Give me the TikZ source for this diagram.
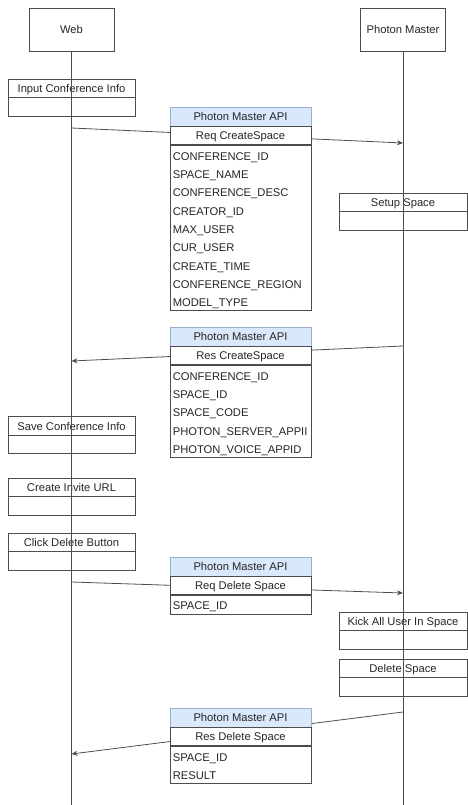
\documentclass[tikz,border=0pt]{standalone}
\usepackage{fontspec}
\setmainfont{Liberation Sans}
\usetikzlibrary{arrows.meta}
\definecolor{ln}{HTML}{4D4D4D}
\definecolor{tx}{HTML}{262626}
\definecolor{hdfill}{HTML}{DAE8FC}
\definecolor{hdline}{HTML}{9AB0D0}
\tikzset{
  every node/.style={font=\fontsize{11.2}{13}\selectfont, text=tx, text height=8pt, text depth=0pt},
  actor/.style={draw=ln, line width=0.8pt, minimum width=85pt, minimum height=43pt, inner sep=0pt},
  actbox/.style={draw=ln, line width=0.8pt, minimum width=127pt, minimum height=37pt, inner sep=0pt,
    path picture={\draw[ln, line width=0.8pt] ([yshift=-18.5pt]path picture bounding box.north west) -- ([yshift=-18.5pt]path picture bounding box.north east);}},
  acttext/.style={inner sep=0pt, anchor=center},
  life/.style={draw=ln, line width=0.8pt},
  msg/.style={draw=ln, line width=0.8pt, -{Stealth[length=6pt,width=5pt]}},
  hdr/.style={draw=hdline, fill=hdfill, line width=0.8pt, minimum width=141pt, minimum height=19pt, inner sep=0pt},
  rowbox/.style={draw=ln, fill=white, line width=0.8pt, minimum width=141pt, minimum height=18pt, inner sep=0pt},
  fieldbox/.style={draw=ln, fill=white, line width=0.8pt, minimum width=141pt, inner sep=0pt},
  field/.style={anchor=west, inner sep=0pt},
}
\begin{document}
\begin{tikzpicture}[x=1pt,y=-1pt]
\useasboundingbox (0,0) rectangle (467,805);

% actors
\node[actor] (web) at (71.5,29.5) {Web};
\node[actor] (pm) at (403,29.5) {Photon Master};
\coordinate (webend) at (71.5,805);
\coordinate (pmend) at (403,805);

% message end points on lifelines
\coordinate (a1s) at (71.5,128);
\coordinate (a1e) at (403,143);
\coordinate (a2s) at (403,346);
\coordinate (a2e) at (71.5,361);
\coordinate (a3s) at (71.5,582);
\coordinate (a3e) at (403,593);
\coordinate (a4s) at (403,712);
\coordinate (a4e) at (71.5,754);

% activity boxes
\node[actbox] (input) at (71.5,97.5) {};
\node[acttext] (inputt) at ([yshift=-10pt]input.north) {Input Conference Info};
\node[actbox] (save) at (71.5,435) {};
\node[acttext] (savet) at ([yshift=-10pt]save.north) {Save Conference Info};
\node[actbox] (invite) at (71.5,496.5) {};
\node[acttext] (invitet) at ([yshift=-10pt]invite.north) {Create Invite URL};
\node[actbox] (click) at (71.5,551.5) {};
\node[acttext] (clickt) at ([yshift=-10pt]click.north) {Click Delete Button};
\node[actbox, minimum width=128pt] (setup) at (403,211.5) {};
\node[acttext] (setupt) at ([yshift=-10pt]setup.north) {Setup Space};
\node[actbox, minimum width=128pt] (kick) at (403,630.5) {};
\node[acttext] (kickt) at ([yshift=-10pt]kick.north) {Kick All User In Space};
\node[actbox, minimum width=128pt] (del) at (403,677.5) {};
\node[acttext] (delt) at ([yshift=-10pt]del.north) {Delete Space};

% lifelines
\draw[life] (web) -- (webend);
\draw[life] (pm) -- (pmend);

% messages
\draw[msg] (a1s) -- (a1e);
\draw[msg] (a2s) -- (a2e);
\draw[msg] (a3s) -- (a3e);
\draw[msg] (a4s) -- (a4e);

% table 1
\node[hdr] (t1h) at (240.5,116.5) {Photon Master API};
\node[rowbox, anchor=north] (t1r) at (t1h.south) {Req CreateSpace};
\node[fieldbox, anchor=north, minimum height=164.7pt] (t1f) at (t1r.south) {};
\foreach \t [count=\i] in {CONFERENCE\_ID,SPACE\_NAME,CONFERENCE\_DESC,CREATOR\_ID,MAX\_USER,CUR\_USER,CREATE\_TIME,CONFERENCE\_REGION,MODEL\_TYPE}
  \node[field] (t1f\i) at ([xshift=3pt,yshift={-(\i-0.5)*18.3pt-2pt}]t1f.north west) {\t};

% table 2
\node[hdr] (t2h) at (240.5,336.5) {Photon Master API};
\node[rowbox, anchor=north] (t2r) at (t2h.south) {Res CreateSpace};
\node[fieldbox, anchor=north, minimum height=91.5pt] (t2f) at (t2r.south) {};
\foreach \t [count=\i] in {CONFERENCE\_ID,SPACE\_ID,SPACE\_CODE,PHOTON\_SERVER\_APPII,PHOTON\_VOICE\_APPID}
  \node[field] (t2f\i) at ([xshift=3pt,yshift={-(\i-0.5)*18.3pt-2pt}]t2f.north west) {\t};

% table 3
\node[hdr] (t3h) at (240.5,566.5) {Photon Master API};
\node[rowbox, anchor=north] (t3r) at (t3h.south) {Req Delete Space};
\node[fieldbox, anchor=north, minimum height=18.3pt] (t3f) at (t3r.south) {};
\node[field] (t3f1) at ([xshift=3pt,yshift=-10.2pt]t3f.north west) {SPACE\_ID};

% table 4
\node[hdr] (t4h) at (240.5,717.5) {Photon Master API};
\node[rowbox, anchor=north] (t4r) at (t4h.south) {Res Delete Space};
\node[fieldbox, anchor=north, minimum height=36.6pt] (t4f) at (t4r.south) {};
\node[field] (t4f1) at ([xshift=3pt,yshift=-11pt]t4f.north west) {SPACE\_ID};
\node[field] (t4f2) at ([xshift=3pt,yshift=-29.3pt]t4f.north west) {RESULT};
\end{tikzpicture}
\end{document}
